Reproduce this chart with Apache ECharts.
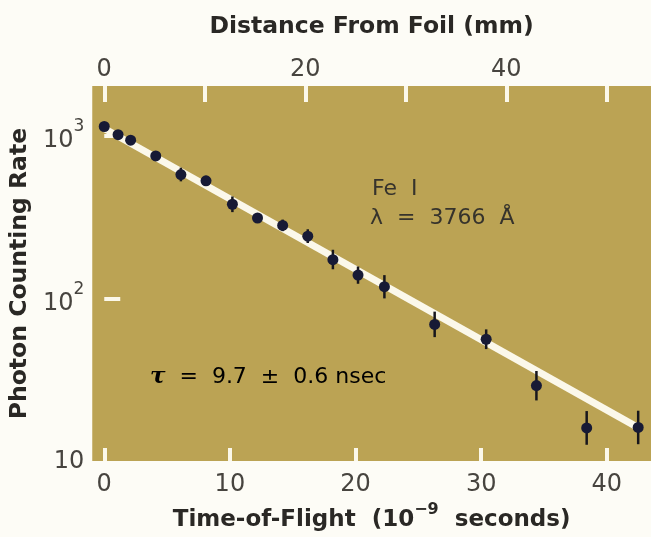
<!DOCTYPE html>
<html>
<head>
<meta charset="utf-8">
<script src="https://cdn.jsdelivr.net/npm/echarts@6/dist/echarts.min.js"></script>
<style>
html,body{margin:0;padding:0;background:#fdfcf6;}
#chart{width:651px;height:537px;}
</style>
</head>
<body>
<div id="chart"></div>
<script>
// ---- data ----
const timeNs   = [0, 1.1, 2.1, 4.1, 6.1, 8.1, 10.2, 12.2, 14.2, 16.2, 18.2, 20.2, 22.3, 26.3, 30.4, 34.4, 38.4, 42.5];
const counts   = [1139, 1014, 938, 751, 577, 528, 379, 312, 281, 241, 173, 139, 118, 69.2, 56.1, 29.1, 16.0, 16.1];
const errLow   = [1078, 959, 887, 701, 524, 493, 339, 291, 259, 219, 151, 123, 100, 57.8, 48.8, 23.6, 12.6, 12.7];
const errHigh  = [1204, 1072, 991, 805, 636, 566, 423, 334, 305, 266, 199, 157, 139, 82.9, 64.5, 35.8, 20.3, 20.4];
const fitTime  = [0, 42.5];
const fitCounts = [1108, 16.05];
const timeTicks = [0, 10, 20, 30, 40];
const distTicks = [0, 10, 20, 30, 40, 50];
const distLabels = [0, 20, 40];
const rateTicks = [100, 1000];
const rateLabels = [10, 100, 1000];
const mmPerNs = 1.25;

const timeMin = -0.955, timeMax = 43.52;

const pointData = timeNs.map((t, i) => [t, counts[i]]);
const errData = timeNs.map((t, i) => [t, errLow[i], errHigh[i]]);
const fitData = fitTime.map((t, i) => [t, fitCounts[i]]);

const lightFont = 'DejaVu Sans, Verdana, sans-serif';
const boldFont = 'DejaVu Sans, Verdana, sans-serif';
const txt = '#47443f';
const titleCol = '#2a2825';
const tickWhite = '#fbf8ea';

const chart = echarts.init(document.getElementById('chart'), null, {renderer: 'canvas'});
chart.setOption({
  backgroundColor: '#fdfcf6',
  animation: false,
  grid: {left: 92, right: 0, top: 86, bottom: 69, show: true, backgroundColor: '#bba354', borderWidth: 0},
  xAxis: [{
    type: 'value', position: 'bottom', min: timeMin, max: timeMax,
    name: '{t|Time-of-Flight  (10}{sup|−9}{t|  seconds)}',
    nameLocation: 'middle', nameGap: 40,
    nameTextStyle: {
      rich: {
        t: {fontFamily: boldFont, fontWeight: 'bold', fontSize: 23, color: titleCol, lineHeight: 30, verticalAlign: 'bottom'},
        sup: {fontFamily: boldFont, fontWeight: 'bold', fontSize: 16, color: titleCol, lineHeight: 14, verticalAlign: 'top'}
      }
    },
    splitLine: {show: false},
    axisLine: {show: false},
    axisTick: {show: true, inside: true, length: 13, customValues: timeTicks, lineStyle: {color: tickWhite, width: 4}},
    axisLabel: {customValues: timeTicks, margin: 12, fontFamily: lightFont, fontSize: 24, color: txt}
  }, {
    type: 'value', position: 'top', min: timeMin * mmPerNs, max: timeMax * mmPerNs,
    name: 'Distance From Foil (mm)', nameLocation: 'middle', nameGap: 47,
    nameTextStyle: {fontFamily: boldFont, fontWeight: 'bold', fontSize: 23.5, color: titleCol},
    splitLine: {show: false},
    axisLine: {show: false},
    axisTick: {show: true, inside: true, length: 16, customValues: distTicks, lineStyle: {color: tickWhite, width: 4}},
    axisLabel: {customValues: distLabels, margin: 4, fontFamily: lightFont, fontSize: 24, color: txt}
  }],
  yAxis: {
    type: 'log', logBase: 10, min: 10, max: 2020,
    name: 'Photon Counting Rate', nameLocation: 'middle', nameGap: 53,
    nameTextStyle: {fontFamily: boldFont, fontWeight: 'bold', fontSize: 23.5, color: titleCol},
    splitLine: {show: false},
    axisLine: {show: false},
    axisTick: {show: true, inside: true, length: 16, customValues: rateTicks, lineStyle: {color: tickWhite, width: 4}},
    axisLabel: {
      customValues: rateLabels, margin: 8,
      formatter: function (v) {
        const p = Math.round(Math.log10(v));
        return p === 1 ? '{b|10}' : '{b|10}{s|' + p + '}';
      },
      rich: {
        b: {fontFamily: lightFont, fontSize: 24, color: txt, lineHeight: 26, verticalAlign: 'bottom'},
        s: {fontFamily: lightFont, fontSize: 17, color: txt, lineHeight: 35, verticalAlign: 'top'}
      }
    }
  },
  graphic: [
    {type: 'text', x: 372, y: 189, style: {text: 'Fe  I', fontFamily: 'DejaVu Sans, sans-serif', fontSize: 22, fill: '#36332c', verticalAlign: 'middle'}},
    {type: 'text', x: 370, y: 218, style: {text: 'λ  =  3766  Å', fontFamily: 'DejaVu Sans, sans-serif', fontSize: 22, fill: '#36332c', verticalAlign: 'middle'}},
    {type: 'text', x: 150, y: 377, style: {
      text: '{tau|τ}{r|  =  9.7  ±  0.6 nsec}',
      verticalAlign: 'middle',
      rich: {
        tau: {fontFamily: 'DejaVu Serif, Liberation Serif, serif', fontStyle: 'italic', fontWeight: 'bold', fontSize: 23, color: '#1f1d1a'},
        r: {fontFamily: 'DejaVu Sans, sans-serif', fontSize: 22, color: '#36332c'}
      }
    }}
  ],
  series: [{
    type: 'line', name: 'fit', data: fitData, xAxisIndex: 0, yAxisIndex: 0,
    showSymbol: false, symbol: 'none', z: 2,
    lineStyle: {color: tickWhite, width: 7}
  }, {
    type: 'custom', name: 'error', data: errData, xAxisIndex: 0, yAxisIndex: 0, z: 3,
    renderItem: function (params, api) {
      const lo = api.coord([api.value(0), api.value(1)]);
      const hi = api.coord([api.value(0), api.value(2)]);
      return {type: 'line', shape: {x1: lo[0], y1: lo[1], x2: hi[0], y2: hi[1]}, style: {stroke: '#17161c', lineWidth: 2.5}};
    },
    encode: {x: 0, y: [1, 2]}
  }, {
    type: 'scatter', name: 'data', data: pointData, xAxisIndex: 0, yAxisIndex: 0, z: 4,
    symbol: 'circle', symbolSize: 11,
    itemStyle: {color: '#171a35', opacity: 1}
  }]
});
</script>
</body>
</html>
